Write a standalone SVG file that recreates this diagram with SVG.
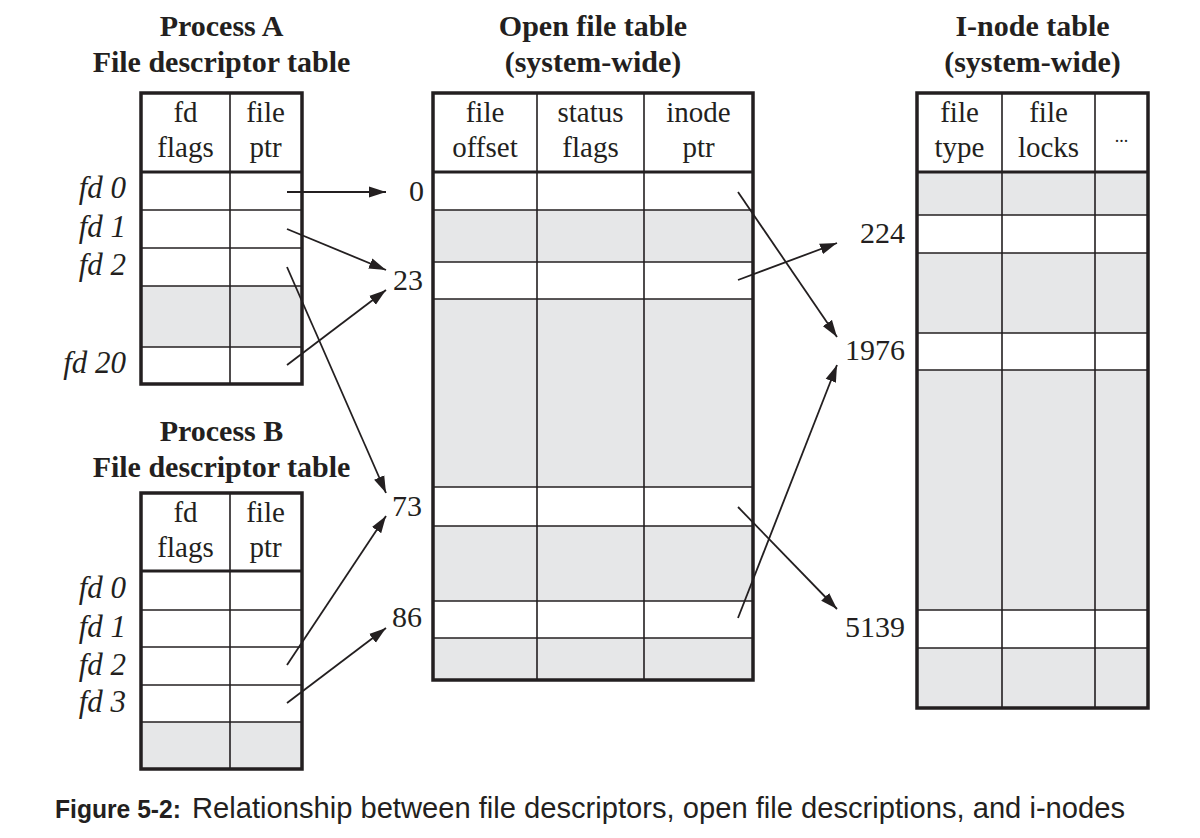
<svg xmlns="http://www.w3.org/2000/svg" width="1200" height="838" viewBox="0 0 1200 838">
<style>
  text { font-family: "Liberation Serif", "DejaVu Serif", serif; fill: #231f20; }
  .title { font-size: 30px; font-weight: bold; text-anchor: middle; }
  .cell { font-size: 29px; text-anchor: middle; }
  .fd { font-size: 31px; font-style: italic; text-anchor: end; }
  .num { font-size: 30px; text-anchor: end; }
  .gray { fill: #e6e7e8; stroke: none; }
  .inner { stroke: #231f20; stroke-width: 1.6; fill: none; }
  .outer { stroke: #231f20; stroke-width: 3.5; fill: none; }
  .hdr { stroke: #231f20; stroke-width: 3; }
  .conn { stroke: #231f20; stroke-width: 1.8; fill: none; marker-end: url(#arrow); }
  .cap { font-family: "Liberation Sans", "DejaVu Sans", sans-serif; fill: #231f20; }
</style>
<defs>
  <marker id="arrow" markerUnits="userSpaceOnUse" markerWidth="18" markerHeight="12" refX="17" refY="6" orient="auto">
    <path d="M0,0.5 L17,6 L0,11.5 Z" fill="#231f20"/>
  </marker>
</defs>
<rect width="1200" height="838" fill="#ffffff"/>

<!-- Process A -->
<g id="processA">
  <text class="title" x="221.5" y="36">Process A</text>
  <text class="title" x="221.5" y="72">File descriptor table</text>
  <rect class="gray" x="141" y="286" width="161" height="61"/>
  <line class="inner" x1="230" y1="93" x2="230" y2="384"/>
  <line class="inner" x1="141" y1="210" x2="302" y2="210"/>
  <line class="inner" x1="141" y1="248" x2="302" y2="248"/>
  <line class="inner" x1="141" y1="286" x2="302" y2="286"/>
  <line class="inner" x1="141" y1="347" x2="302" y2="347"/>
  <line class="hdr" x1="141" y1="172" x2="302" y2="172"/>
  <rect class="outer" x="141" y="93" width="161" height="291"/>
  <text class="cell" x="185.5" y="122">fd</text>
  <text class="cell" x="185.5" y="157">flags</text>
  <text class="cell" x="265.5" y="122">file</text>
  <text class="cell" x="265.5" y="157">ptr</text>
  <text class="fd" x="126" y="198">fd 0</text>
  <text class="fd" x="126" y="237">fd 1</text>
  <text class="fd" x="126" y="275">fd 2</text>
  <text class="fd" x="126" y="373">fd 20</text>
</g>

<!-- Process B -->
<g id="processB">
  <text class="title" x="221.5" y="441">Process B</text>
  <text class="title" x="221.5" y="477">File descriptor table</text>
  <rect class="gray" x="141" y="722" width="161" height="47"/>
  <line class="inner" x1="230" y1="493" x2="230" y2="769"/>
  <line class="inner" x1="141" y1="610" x2="302" y2="610"/>
  <line class="inner" x1="141" y1="647" x2="302" y2="647"/>
  <line class="inner" x1="141" y1="685" x2="302" y2="685"/>
  <line class="inner" x1="141" y1="722" x2="302" y2="722"/>
  <line class="hdr" x1="141" y1="571" x2="302" y2="571"/>
  <rect class="outer" x="141" y="493" width="161" height="276"/>
  <text class="cell" x="185.5" y="522">fd</text>
  <text class="cell" x="185.5" y="557">flags</text>
  <text class="cell" x="265.5" y="522">file</text>
  <text class="cell" x="265.5" y="557">ptr</text>
  <text class="fd" x="126" y="598">fd 0</text>
  <text class="fd" x="126" y="637">fd 1</text>
  <text class="fd" x="126" y="675">fd 2</text>
  <text class="fd" x="126" y="712">fd 3</text>
</g>

<!-- Open file table -->
<g id="openFileTable">
  <text class="title" x="593" y="36">Open file table</text>
  <text class="title" x="593" y="72">(system-wide)</text>
  <rect class="gray" x="433" y="210" width="320" height="52"/>
  <rect class="gray" x="433" y="299" width="320" height="188"/>
  <rect class="gray" x="433" y="526" width="320" height="75"/>
  <rect class="gray" x="433" y="638" width="320" height="42"/>
  <line class="inner" x1="537" y1="93" x2="537" y2="680"/>
  <line class="inner" x1="644" y1="93" x2="644" y2="680"/>
  <line class="inner" x1="433" y1="210" x2="753" y2="210"/>
  <line class="inner" x1="433" y1="262" x2="753" y2="262"/>
  <line class="inner" x1="433" y1="299" x2="753" y2="299"/>
  <line class="inner" x1="433" y1="487" x2="753" y2="487"/>
  <line class="inner" x1="433" y1="526" x2="753" y2="526"/>
  <line class="inner" x1="433" y1="601" x2="753" y2="601"/>
  <line class="inner" x1="433" y1="638" x2="753" y2="638"/>
  <line class="hdr" x1="433" y1="172" x2="753" y2="172"/>
  <rect class="outer" x="433" y="93" width="320" height="587"/>
  <text class="cell" x="485" y="122">file</text>
  <text class="cell" x="485" y="157">offset</text>
  <text class="cell" x="590.5" y="122">status</text>
  <text class="cell" x="590.5" y="157">flags</text>
  <text class="cell" x="698.5" y="122">inode</text>
  <text class="cell" x="698.5" y="157">ptr</text>
  <text class="num" x="424" y="201">0</text>
  <text class="num" x="423" y="290">23</text>
  <text class="num" x="422" y="516">73</text>
  <text class="num" x="422" y="627">86</text>
</g>

<!-- I-node table -->
<g id="inodeTable">
  <text class="title" x="1032.5" y="36">I-node table</text>
  <text class="title" x="1032.5" y="72">(system-wide)</text>
  <rect class="gray" x="917" y="172" width="231" height="43"/>
  <rect class="gray" x="917" y="253" width="231" height="80"/>
  <rect class="gray" x="917" y="370" width="231" height="240"/>
  <rect class="gray" x="917" y="648" width="231" height="60"/>
  <line class="inner" x1="1002" y1="93" x2="1002" y2="708"/>
  <line class="inner" x1="1095" y1="93" x2="1095" y2="708"/>
  <line class="inner" x1="917" y1="215" x2="1148" y2="215"/>
  <line class="inner" x1="917" y1="253" x2="1148" y2="253"/>
  <line class="inner" x1="917" y1="333" x2="1148" y2="333"/>
  <line class="inner" x1="917" y1="370" x2="1148" y2="370"/>
  <line class="inner" x1="917" y1="610" x2="1148" y2="610"/>
  <line class="inner" x1="917" y1="648" x2="1148" y2="648"/>
  <line class="hdr" x1="917" y1="172" x2="1148" y2="172"/>
  <rect class="outer" x="917" y="93" width="231" height="615"/>
  <text class="cell" x="959.5" y="122">file</text>
  <text class="cell" x="959.5" y="157">type</text>
  <text class="cell" x="1048.5" y="122">file</text>
  <text class="cell" x="1048.5" y="157">locks</text>
  <text class="cell" x="1121.5" y="142" style="font-size:18px">...</text>
  <text class="num" x="905" y="243">224</text>
  <text class="num" x="905" y="360">1976</text>
  <text class="num" x="905" y="637">5139</text>
</g>

<!-- Connectors -->
<g id="connectors">
  <line class="conn" x1="287" y1="192" x2="386" y2="192"/>
  <line class="conn" x1="287" y1="229" x2="386" y2="270"/>
  <line class="conn" x1="287" y1="267" x2="386" y2="493"/>
  <line class="conn" x1="287" y1="365" x2="386" y2="290"/>
  <line class="conn" x1="287" y1="665" x2="386" y2="516"/>
  <line class="conn" x1="287" y1="703" x2="386" y2="628"/>
  <line class="conn" x1="738" y1="192" x2="837" y2="337"/>
  <line class="conn" x1="738" y1="280" x2="837" y2="243"/>
  <line class="conn" x1="738" y1="507" x2="837" y2="609"/>
  <line class="conn" x1="738" y1="618" x2="837" y2="365"/>
</g>

<!-- Caption -->
<g id="caption">
  <text class="cap" x="55" y="818" font-size="26" font-weight="bold" textLength="126" lengthAdjust="spacingAndGlyphs">Figure 5-2:</text>
  <text class="cap" x="192" y="818" font-size="29" textLength="933" lengthAdjust="spacingAndGlyphs">Relationship between file descriptors, open file descriptions, and i-nodes</text>
</g>
</svg>
